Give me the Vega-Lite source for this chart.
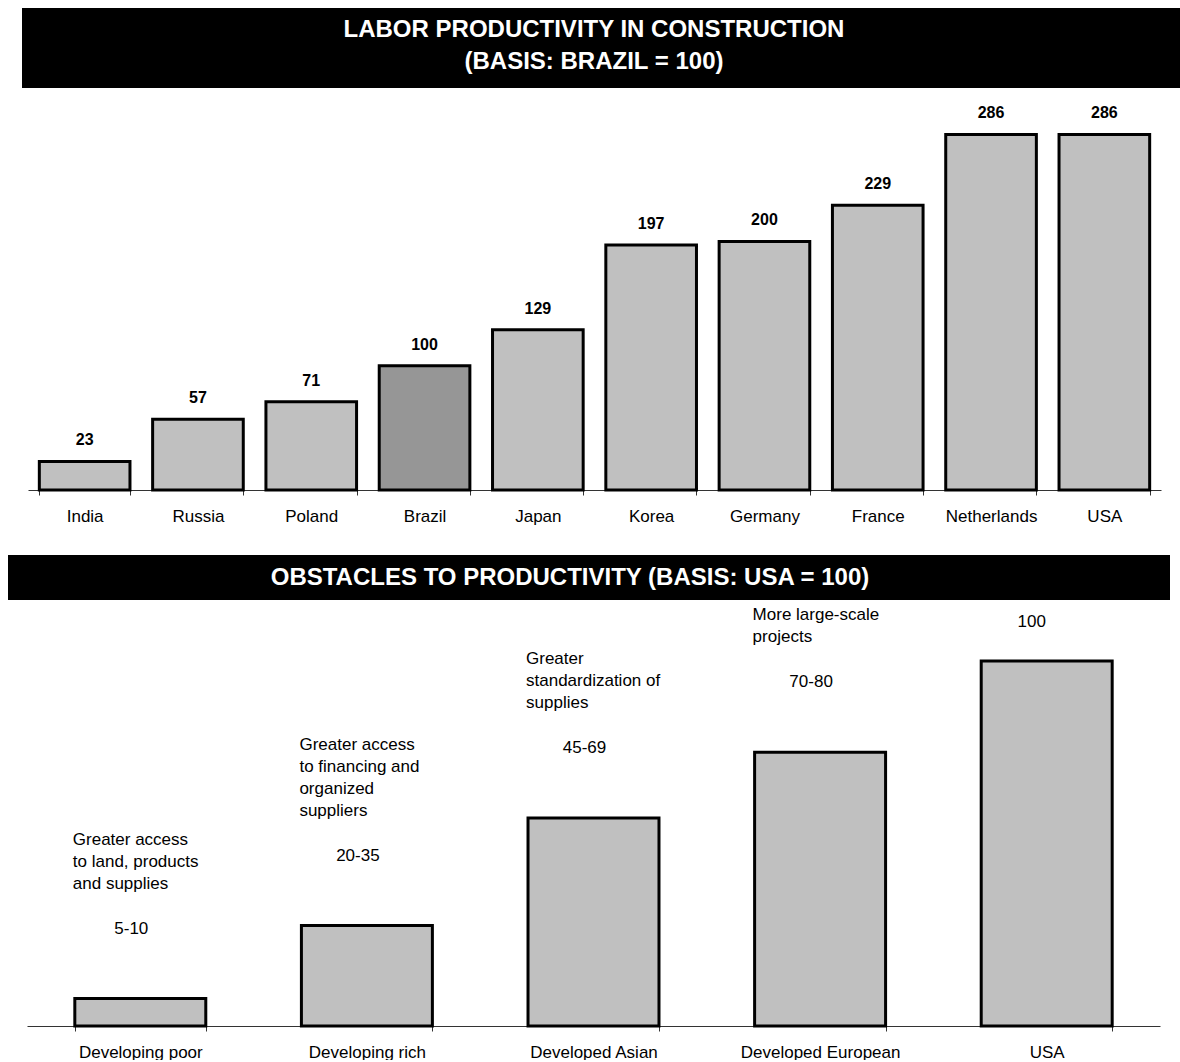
{
  "$schema": "https://vega.github.io/schema/vega-lite/v6.json",
  "padding": {"left": 8, "top": 8, "right": 0, "bottom": 0},
  "background": "white",
  "spacing": 0,
  "config": {
    "view": {"stroke": null},
    "font": "Liberation Sans",
    "concat": {"spacing": 0}
  },
  "datasets": {
    "tiers": [
      {"group": "Developing poor", "level": 7.5, "range": "5-10"},
      {"group": "Developing rich", "level": 27.5, "range": "20-35"},
      {"group": "Developed Asian", "level": 57, "range": "45-69"},
      {"group": "Developed European", "level": 75, "range": "70-80"},
      {"group": "USA", "level": 100, "range": "100"}
    ],
    "notes": [
      {"group": "Developing poor", "line": "Greater access", "linesBelow": 2},
      {"group": "Developing poor", "line": "to land, products", "linesBelow": 1},
      {"group": "Developing poor", "line": "and supplies", "linesBelow": 0},
      {"group": "Developing rich", "line": "Greater access", "linesBelow": 3},
      {"group": "Developing rich", "line": "to financing and", "linesBelow": 2},
      {"group": "Developing rich", "line": "organized", "linesBelow": 1},
      {"group": "Developing rich", "line": "suppliers", "linesBelow": 0},
      {"group": "Developed Asian", "line": "Greater", "linesBelow": 2},
      {"group": "Developed Asian", "line": "standardization of", "linesBelow": 1},
      {"group": "Developed Asian", "line": "supplies", "linesBelow": 0},
      {"group": "Developed European", "line": "More large-scale", "linesBelow": 1},
      {"group": "Developed European", "line": "projects", "linesBelow": 0}
    ]
  },
  "vconcat": [
    {
      "width": 1172,
      "height": 80,
      "data": {"values": [{"heading": "LABOR PRODUCTIVITY IN CONSTRUCTION\n(BASIS:  BRAZIL = 100)", "from": 0, "to": 1}]},
      "layer": [
        {
          "mark": {"type": "rect", "color": "#000000"},
          "encoding": {
            "x": {"field": "from", "type": "quantitative", "scale": {"domain": [0, 1], "range": [14, 1172]}, "axis": null},
            "x2": {"field": "to"}
          }
        },
        {
          "mark": {
            "type": "text",
            "color": "white",
            "fontWeight": "bold",
            "fontSize": 24,
            "lineBreak": "\n",
            "lineHeight": 32,
            "baseline": "middle",
            "dy": -18
          },
          "encoding": {"text": {"field": "heading"}}
        }
      ]
    },
    {
      "width": 1153,
      "height": 402,
      "data": {
        "values": [
          {"country": "India", "index": 23},
          {"country": "Russia", "index": 57},
          {"country": "Poland", "index": 71},
          {"country": "Brazil", "index": 100},
          {"country": "Japan", "index": 129},
          {"country": "Korea", "index": 197},
          {"country": "Germany", "index": 200},
          {"country": "France", "index": 229},
          {"country": "Netherlands", "index": 286},
          {"country": "USA", "index": 286}
        ]
      },
      "encoding": {
        "x": {
          "field": "country",
          "type": "nominal",
          "sort": null,
          "scale": {"range": [20, 1153], "paddingInner": 0.2, "paddingOuter": 0.1},
          "axis": {
            "title": null,
            "labelAngle": 0,
            "labelFontSize": 17,
            "labelColor": "#000000",
            "labelPadding": 13,
            "tickSize": 5,
            "tickBand": "extent",
            "domainColor": "#333333",
            "tickColor": "#333333",
            "minExtent": 65,
            "maxExtent": 65
          }
        },
        "y": {
          "field": "index",
          "type": "quantitative",
          "scale": {"domain": [0, 323.4], "nice": false},
          "axis": null
        }
      },
      "layer": [
        {
          "mark": {"type": "bar", "stroke": "#000000", "strokeWidth": 3},
          "encoding": {
            "fill": {
              "condition": {"test": "datum.country === 'Brazil'", "value": "#969696"},
              "value": "#c0c0c0"
            }
          }
        },
        {
          "mark": {"type": "text", "fontWeight": "bold", "fontSize": 16, "baseline": "alphabetic", "dy": -16, "color": "#000000"},
          "encoding": {"text": {"field": "index"}}
        }
      ]
    },
    {
      "width": 1162,
      "height": 45,
      "view": {"fill": "#000000", "stroke": null},
      "data": {"values": [{"heading": "OBSTACLES TO  PRODUCTIVITY (BASIS: USA = 100)"}]},
      "mark": {
        "type": "text",
        "color": "white",
        "fontWeight": "bold",
        "fontSize": 24,
        "baseline": "middle",
        "dx": -19
      },
      "encoding": {"text": {"field": "heading"}}
    },
    {
      "width": 1152,
      "height": 426,
      "encoding": {
        "x": {
          "field": "group",
          "type": "nominal",
          "sort": null,
          "scale": {
            "domain": ["Developing poor", "Developing rich", "Developed Asian", "Developed European", "USA"],
            "range": [19, 1152],
            "paddingInner": 0.422,
            "paddingOuter": 0.211
          },
          "axis": {
            "title": null,
            "labelAngle": 0,
            "labelFontSize": 17,
            "labelColor": "#000000",
            "labelPadding": 13,
            "tickSize": 5,
            "tickBand": "extent",
            "domainColor": "#333333",
            "tickColor": "#333333"
          }
        },
        "y": {
          "field": "level",
          "type": "quantitative",
          "scale": {"domain": [0, 116.7], "nice": false},
          "axis": null
        }
      },
      "layer": [
        {
          "data": {"name": "tiers"},
          "mark": {"type": "bar", "stroke": "#000000", "strokeWidth": 3, "fill": "#c0c0c0"}
        },
        {
          "data": {"name": "notes"},
          "transform": [
            {"filter": "datum.linesBelow === 0"},
            {"lookup": "group", "from": {"data": {"name": "tiers"}, "key": "group", "fields": ["level"]}}
          ],
          "mark": {"type": "text", "align": "left", "baseline": "alphabetic", "fontSize": 17, "dy": -110, "dx": -2, "color": "#000000"},
          "encoding": {
            "x": {"field": "group", "type": "nominal", "sort": null, "bandPosition": 0},
            "text": {"field": "line"}
          }
        },
        {
          "data": {"name": "notes"},
          "transform": [
            {"filter": "datum.linesBelow === 1"},
            {"lookup": "group", "from": {"data": {"name": "tiers"}, "key": "group", "fields": ["level"]}}
          ],
          "mark": {"type": "text", "align": "left", "baseline": "alphabetic", "fontSize": 17, "dy": -132, "dx": -2, "color": "#000000"},
          "encoding": {
            "x": {"field": "group", "type": "nominal", "sort": null, "bandPosition": 0},
            "text": {"field": "line"}
          }
        },
        {
          "data": {"name": "notes"},
          "transform": [
            {"filter": "datum.linesBelow === 2"},
            {"lookup": "group", "from": {"data": {"name": "tiers"}, "key": "group", "fields": ["level"]}}
          ],
          "mark": {"type": "text", "align": "left", "baseline": "alphabetic", "fontSize": 17, "dy": -154, "dx": -2, "color": "#000000"},
          "encoding": {
            "x": {"field": "group", "type": "nominal", "sort": null, "bandPosition": 0},
            "text": {"field": "line"}
          }
        },
        {
          "data": {"name": "notes"},
          "transform": [
            {"filter": "datum.linesBelow === 3"},
            {"lookup": "group", "from": {"data": {"name": "tiers"}, "key": "group", "fields": ["level"]}}
          ],
          "mark": {"type": "text", "align": "left", "baseline": "alphabetic", "fontSize": 17, "dy": -176, "dx": -2, "color": "#000000"},
          "encoding": {
            "x": {"field": "group", "type": "nominal", "sort": null, "bandPosition": 0},
            "text": {"field": "line"}
          }
        },
        {
          "data": {"name": "tiers"},
          "transform": [{"filter": "datum.group !== 'USA'"}],
          "mark": {"type": "text", "align": "center", "baseline": "alphabetic", "fontSize": 17, "dy": -65, "dx": -9, "color": "#000000"},
          "encoding": {"text": {"field": "range"}}
        },
        {
          "data": {"name": "tiers"},
          "transform": [{"filter": "datum.group === 'USA'"}],
          "mark": {"type": "text", "align": "center", "baseline": "alphabetic", "fontSize": 17, "dy": -34, "dx": -15, "color": "#000000"},
          "encoding": {"text": {"field": "range"}}
        }
      ]
    }
  ]
}
